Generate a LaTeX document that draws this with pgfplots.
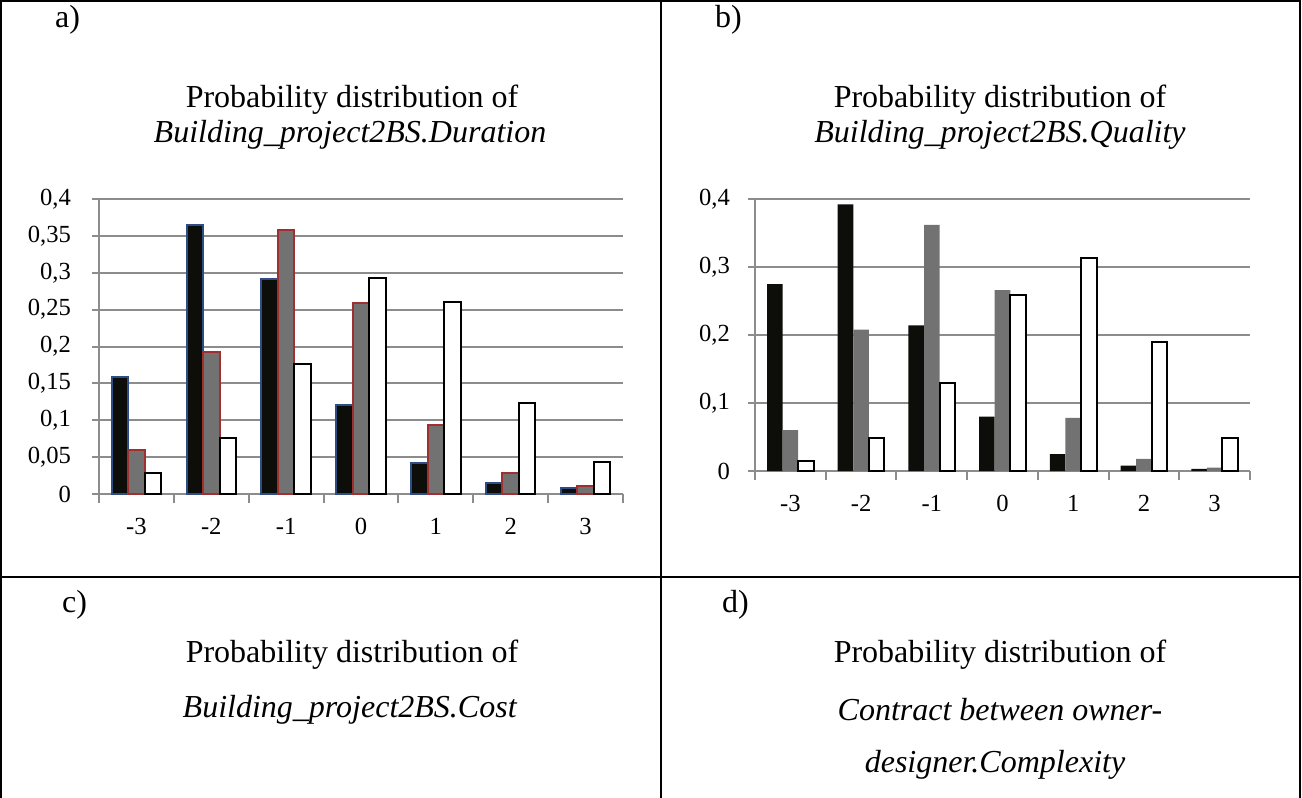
\documentclass[border=0pt]{standalone}
\usepackage{pgfplots}
\pgfplotsset{compat=1.18}
\usepackage{fontspec}
\setmainfont{Liberation Serif}

\definecolor{barblack}{HTML}{0D0D09}
\definecolor{bargray}{HTML}{727272}
\definecolor{edgeblue}{HTML}{2E4C86}
\definecolor{edgered}{HTML}{A03030}
\definecolor{gridgray}{HTML}{8C8C8C}

\newcommand{\titlefont}{\fontsize{16}{19}\selectfont}
\newcommand{\tickfont}{\fontsize{12.3}{14}\selectfont}

% shared look of both panels
\pgfplotsset{
  panel/.style={
    scale only axis,
    anchor=south west,
    xmin=-0.5, xmax=6.5,
    ymin=0, ymax=0.4,
    axis x line*=bottom,
    axis y line*=left,
    axis line style={gridgray, line width=1pt},
    ymajorgrids,
    grid style={gridgray, line width=1pt},
    tick align=outside,
    xtick={0,...,6},
    xticklabels={-3,-2,-1,0,1,2,3},
    major x tick style={draw=none},
    minor xtick={-0.5,0.5,...,6.5},
    minor x tick style={gridgray, line width=1pt},
    minor tick length=4.5pt,
    major y tick style={gridgray, line width=1pt},
    major tick length=3.5pt,
    tick label style={font=\tickfont},
    xticklabel style={font=\tickfont, yshift=-5pt},
    clip=false,
  },
}

\begin{document}
\begin{tikzpicture}[x=0.5pt,y=-0.5pt]
\path[use as bounding box] (0,0) rectangle (1302,798);

% table frame
\draw[line width=1pt] (1,798) -- (1,1) -- (1300,1) -- (1300,798);
\draw[line width=1pt] (661,1) -- (661,798);
\draw[line width=1pt] (1,577) -- (1300,577);

% panel labels and titles
\node[font=\titlefont, anchor=west] at (48,20) {a)};
\node[font=\titlefont, anchor=west] at (708,20) {b)};
\node[font=\titlefont, anchor=west] at (55,605) {c)};
\node[font=\titlefont, anchor=west] at (715,605) {d)};

\node[font=\titlefont] at (352,100) {Probability distribution of};
\node[font=\titlefont] at (350,135) {\textit{Building\_project2BS.Duration}};
\node[font=\titlefont] at (1000,100) {Probability distribution of};
\node[font=\titlefont] at (1000,135) {\textit{Building\_project2BS.Quality}};
\node[font=\titlefont] at (352,655) {Probability distribution of};
\node[font=\titlefont] at (350,710) {\textit{Building\_project2BS.Cost}};
\node[font=\titlefont] at (1000,655) {Probability distribution of};
\node[font=\titlefont] at (1000,710) {\textit{Contract between owner-}};
\node[font=\titlefont] at (995,765) {\textit{designer.Complexity}};

% a) Duration
\begin{axis}[panel,
    at={(49.5pt,-247pt)},
    width=262pt, height=147.5pt,
    ytick={0,0.05,...,0.4},
    yticklabels={0,{0,05},{0,1},{0,15},{0,2},{0,25},{0,3},{0,35},{0,4}},
    yticklabel style={font=\tickfont, xshift=-7pt},
  ]
  \addplot[ybar, bar width=0.22, bar shift=-0.22, fill=barblack, draw=edgeblue, line width=1pt]
    coordinates {(0,0.158) (1,0.365) (2,0.291) (3,0.121) (4,0.042) (5,0.015) (6,0.008)};
  \addplot[ybar, bar width=0.22, bar shift=0, fill=bargray, draw=edgered, line width=1pt]
    coordinates {(0,0.059) (1,0.192) (2,0.358) (3,0.259) (4,0.093) (5,0.028) (6,0.011)};
  \addplot[ybar, bar width=0.22, bar shift=0.22, fill=white, draw=black, line width=1pt]
    coordinates {(0,0.028) (1,0.076) (2,0.176) (3,0.293) (4,0.261) (5,0.124) (6,0.044)};
\end{axis}

% b) Quality
\begin{axis}[panel,
    at={(377.5pt,-235.5pt)},
    width=247.5pt, height=136pt,
    ytick={0,0.1,...,0.4},
    yticklabels={0,{0,1},{0,2},{0,3},{0,4}},
    yticklabel style={font=\tickfont, xshift=-5.5pt},
  ]
  \addplot[ybar, bar width=0.22, bar shift=-0.22, fill=barblack, draw=none]
    coordinates {(0,0.275) (1,0.392) (2,0.214) (3,0.080) (4,0.025) (5,0.008) (6,0.003)};
  \addplot[ybar, bar width=0.22, bar shift=0, fill=bargray, draw=none]
    coordinates {(0,0.060) (1,0.208) (2,0.362) (3,0.266) (4,0.078) (5,0.018) (6,0.005)};
  \addplot[ybar, bar width=0.22, bar shift=0.22, fill=white, draw=black, line width=1pt]
    coordinates {(0,0.015) (1,0.048) (2,0.130) (3,0.259) (4,0.313) (5,0.189) (6,0.048)};
\end{axis}
\end{tikzpicture}
\end{document}
